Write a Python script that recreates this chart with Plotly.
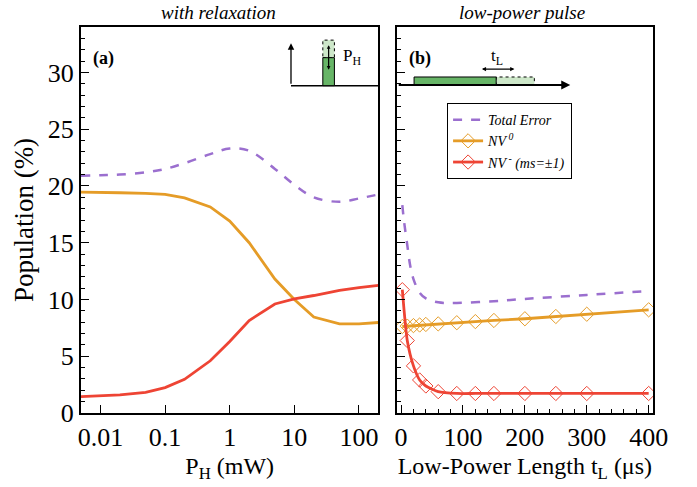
import plotly.graph_objects as go

# ---------------- data ----------------
ph_power = [0.005, 0.01, 0.02, 0.05, 0.1, 0.2, 0.5, 1, 2, 5, 10, 20, 50, 100, 200]
ph_total = [20.9, 20.95, 21.0, 21.2, 21.5, 22.0, 22.8, 23.3, 23.1, 21.5, 20.1, 19.0, 18.6, 18.9, 19.25]
ph_nv0 = [19.45, 19.45, 19.4, 19.35, 19.25, 18.95, 18.15, 16.9, 15.0, 11.8, 10.0, 8.45, 7.85, 7.85, 7.97]
ph_nvm = [1.44, 1.5, 1.59, 1.82, 2.24, 2.97, 4.6, 6.3, 8.15, 9.6, 10.05, 10.35, 10.8, 11.05, 11.25]

tl_len = [2, 10, 20, 30, 40, 60, 90, 120, 150, 200, 250, 300, 400]
tl_nv0 = [7.62, 7.65, 7.7, 7.75, 7.8, 7.85, 7.95, 8.05, 8.15, 8.3, 8.5, 8.7, 9.09]
tl_nvm = [10.86, 6.38, 4.15, 2.91, 2.38, 1.88, 1.72, 1.72, 1.72, 1.72, 1.72, 1.72, 1.72]
tl_total_len = [2, 5, 10, 15, 20, 30, 40, 60, 90, 150, 200, 300, 400]
tl_total = [18.3, 16.8, 14.8, 12.9, 11.8, 10.6, 10.1, 9.75, 9.7, 9.85, 10.05, 10.4, 10.75]

left_xticks = [0.01, 0.1, 1, 10, 100]
left_xticklabels = ["0.01", "0.1", "1", "10", "100"]

PURPLE = "#9B6FCF"
ORANGE = "#E59C27"
RED = "#EE4434"
FONT = "'Liberation Serif', 'Times New Roman', serif"

fig = go.Figure()

# left panel
fig.add_trace(go.Scatter(x=ph_power, y=ph_total, mode="lines", line=dict(color=PURPLE, width=2.5, dash="dash", shape="spline"),
                         xaxis="x", yaxis="y", showlegend=False))
fig.add_trace(go.Scatter(x=ph_power, y=ph_nv0, mode="lines", line=dict(color=ORANGE, width=2.8),
                         xaxis="x", yaxis="y", showlegend=False))
fig.add_trace(go.Scatter(x=ph_power, y=ph_nvm, mode="lines", line=dict(color=RED, width=2.8),
                         xaxis="x", yaxis="y", showlegend=False))

# right panel
fig.add_trace(go.Scatter(x=tl_total_len, y=tl_total, mode="lines", name="Total Error",
                         line=dict(color=PURPLE, width=2.5, dash="dash", shape="spline"),
                         xaxis="x2", yaxis="y2"))
fig.add_trace(go.Scatter(x=tl_len, y=tl_nv0, mode="lines+markers", name="NV<sup> 0</sup>",
                         line=dict(color=ORANGE, width=2.8),
                         marker=dict(symbol="diamond-open", size=11, color=ORANGE, line=dict(width=1)),
                         xaxis="x2", yaxis="y2"))
fig.add_trace(go.Scatter(x=tl_len, y=tl_nvm, mode="lines+markers", name="NV<sup> -</sup> (ms=±1)",
                         line=dict(color=RED, width=2.8, shape="spline", smoothing=0.6),
                         marker=dict(symbol="diamond-open", size=11, color=RED, line=dict(width=1)),
                         xaxis="x2", yaxis="y2"))

tickfont = dict(family=FONT, size=26, color="black")
common_y = dict(range=[0, 34], showgrid=False, zeroline=False, showline=True, linecolor="black", linewidth=2,
                mirror=True, ticks="inside", ticklen=8, tickwidth=1, tickcolor="black",
                tick0=0, dtick=5, automargin=False,
                minor=dict(ticks="inside", ticklen=4, dtick=1, tickcolor="black", showgrid=False))

fig.update_layout(
    width=697, height=487,
    margin=dict(l=81, r=44, t=27, b=74),
    plot_bgcolor="white", paper_bgcolor="white",
    font=dict(family=FONT, color="black"),
    xaxis=dict(type="log", range=[-2.301, 2.301], domain=[0, 0.52], anchor="y", automargin=False,
               showgrid=False, zeroline=False, showline=True, linecolor="black", linewidth=2, mirror=True,
               ticks="inside", ticklen=8, tickcolor="black", tickvals=left_xticks, ticktext=left_xticklabels,
               tickfont=tickfont,
               title=dict(text="P<sub>H</sub> (mW)", font=dict(family=FONT, size=24), standoff=6)),
    yaxis=dict(anchor="x", domain=[0, 1], tickfont=tickfont,
               title=dict(text="Population (%)", font=dict(family=FONT, size=27), standoff=6), **common_y),
    xaxis2=dict(range=[-7, 407], domain=[0.552, 1], anchor="y2", automargin=False,
                showgrid=False, zeroline=False, showline=True, linecolor="black", linewidth=2, mirror=True,
                ticks="inside", ticklen=8, tickcolor="black", tick0=0, dtick=100, tickfont=tickfont,
                minor=dict(ticks="inside", ticklen=4, dtick=20, tickcolor="black", showgrid=False),
                title=dict(text="Low-Power Length t<sub>L</sub> (μs)", font=dict(family=FONT, size=24), standoff=6)),
    yaxis2=dict(anchor="x2", domain=[0, 1], showticklabels=False, **common_y),
    legend=dict(x=0.64, y=0.803, xanchor="left", yanchor="top", xref="paper", yref="paper",
                bordercolor="black", borderwidth=1, bgcolor="white",
                font=dict(family=FONT, size=14, style="italic"), tracegroupgap=2),
    showlegend=True,
)

# titles and panel labels
fig.add_annotation(text="<i>with relaxation</i>", x=0.5, y=1.0, xref="x domain", yref="paper", yanchor="bottom",
                   xshift=-11, yshift=2, showarrow=False, font=dict(family=FONT, size=19))
fig.add_annotation(text="<i>low-power pulse</i>", x=0.5, y=1.0, xref="x2 domain", yref="paper", yanchor="bottom",
                   xshift=-3, yshift=2, showarrow=False, font=dict(family=FONT, size=19))
fig.add_annotation(text="<b>(a)</b>", x=0.035, y=0.95, xref="x domain", yref="y domain", xanchor="left",
                   showarrow=False, font=dict(family=FONT, size=18))
fig.add_annotation(text="<b>(b)</b>", x=0.04, y=0.95, xref="x2 domain", yref="y2 domain", xanchor="left",
                   showarrow=False, font=dict(family=FONT, size=18))

GREEN = "#67B567"
LGREEN = "#CDE7C9"

# left inset: power pulse
fig.add_shape(type="line", x0=0.706, x1=1.0, y0=0.848, y1=0.848, xref="x domain", yref="y domain",
              line=dict(color="black", width=1.5))
fig.add_annotation(x=0.706, y=0.958, ax=0, ay=42, xref="x domain", yref="y domain", text="",
                   showarrow=True, arrowhead=2, arrowsize=1, arrowwidth=1.3, arrowcolor="black")
fig.add_shape(type="rect", x0=0.813, x1=0.852, y0=0.9205, y1=0.966, xref="x domain", yref="y domain",
              fillcolor=LGREEN, line=dict(color="black", width=1, dash="dot"))
fig.add_shape(type="rect", x0=0.813, x1=0.852, y0=0.848, y1=0.9205, xref="x domain", yref="y domain",
              fillcolor=GREEN, line=dict(color="black", width=1))
fig.add_annotation(x=0.8325, y=0.953, ax=0, ay=26, xref="x domain", yref="y domain", text="",
                   showarrow=True, arrowhead=2, startarrowhead=2, arrowside="end+start",
                   arrowsize=0.6, arrowwidth=1.2, arrowcolor="black")
fig.add_annotation(text="P<sub>H</sub>", x=0.875, y=0.955, xref="x domain", yref="y domain", xanchor="left",
                   showarrow=False, font=dict(family=FONT, size=17))

# right inset: low-power pulse
fig.add_shape(type="rect", x0=0.388, x1=0.537, y0=0.8497, y1=0.8705, xref="x2 domain", yref="y2 domain",
              fillcolor=LGREEN, line=dict(color="black", width=1, dash="dot"))
fig.add_shape(type="rect", x0=0.0676, x1=0.388, y0=0.8497, y1=0.8705, xref="x2 domain", yref="y2 domain",
              fillcolor=GREEN, line=dict(color="black", width=1))
fig.add_annotation(x=0.677, y=0.8497, ax=-173, ay=0, xref="x2 domain", yref="y2 domain", text="",
                   showarrow=True, arrowhead=2, arrowsize=1, arrowwidth=1.8, arrowcolor="black")
fig.add_annotation(x=0.459, y=0.891, ax=-34, ay=0, xref="x2 domain", yref="y2 domain", text="",
                   showarrow=True, arrowhead=2, startarrowhead=2, arrowside="end+start", arrowsize=0.7,
                   arrowwidth=1.2, arrowcolor="black")
fig.add_annotation(text="t<sub>L</sub>", x=0.39, y=0.955, xref="x2 domain", yref="y2 domain",
                   showarrow=False, font=dict(family=FONT, size=17))

fig.write_html("out.html")
